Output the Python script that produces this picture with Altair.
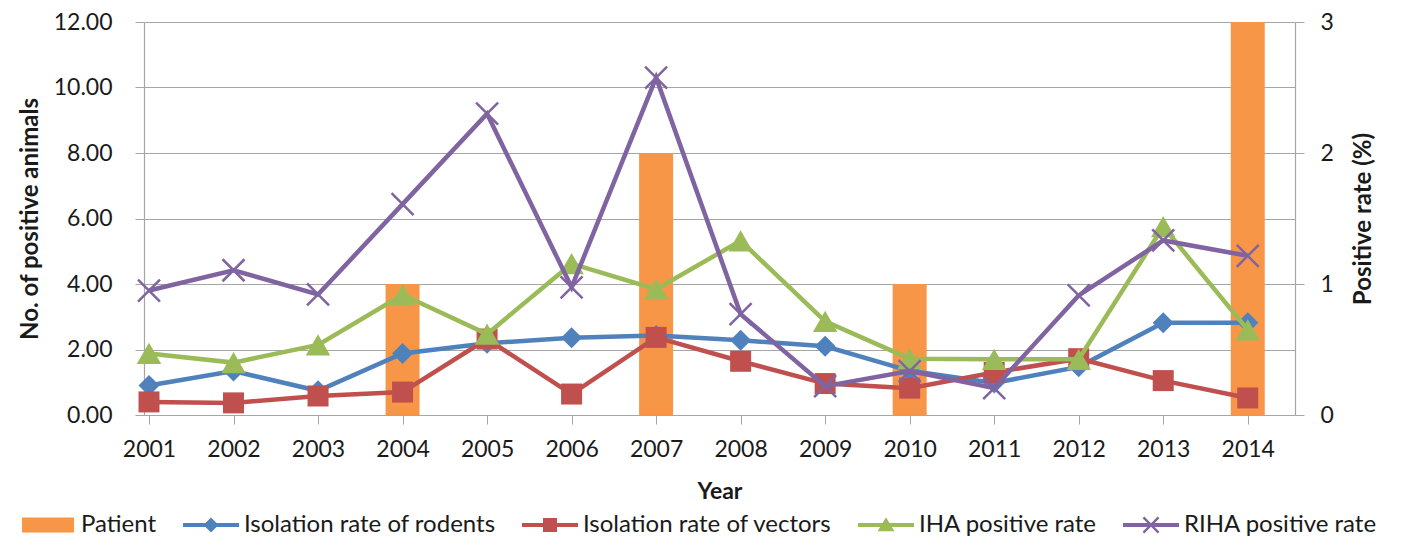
import altair as alt
import pandas as pd

# ---- data ----
years = list(range(2001, 2015))
rodents = [0.90, 1.34, 0.74, 1.88, 2.19, 2.36, 2.43, 2.28, 2.10, 1.35, 0.98, 1.47, 2.82, 2.82]
vectors = [0.40, 0.37, 0.58, 0.70, 2.32, 0.64, 2.37, 1.64, 0.96, 0.82, 1.30, 1.72, 1.05, 0.52]
iha = [1.88, 1.60, 2.14, 3.67, 2.47, 4.62, 3.84, 5.32, 2.86, 1.72, 1.70, 1.70, 5.75, 2.60]
riha = [3.80, 4.42, 3.68, 6.44, 9.20, 3.90, 10.30, 3.08, 0.88, 1.34, 0.82, 3.65, 5.33, 4.86]
patient_years = [2004, 2007, 2010, 2014]
patients = [1, 2, 1, 3]

series_names = ["Isolation rate of rodents", "Isolation rate of vectors",
                "IHA positive rate", "RIHA positive rate"]
series_values = [rodents, vectors, iha, riha]
series_colors = ["#4F81BD", "#C0504D", "#9BBB59", "#8064A2"]
patient_color = "#F79646"
left_ticks = [0, 2, 4, 6, 8, 10, 12]
right_ticks = [0, 0.5, 1, 1.5, 2, 2.5, 3]

# ---- styles ----
FONT = "Lato"
GRID = "#A6A6A6"
TEXT = "#1a1a1a"
W, H = 1151, 393

long_df = pd.DataFrame(
    [{"year": y, "series": s, "value": v}
     for s, vals in zip(series_names, series_values)
     for y, v in zip(years, vals)]
)
bar_df = pd.DataFrame({"year": patient_years, "patients": patients})

x_enc = alt.X(
    "year:Q",
    scale=alt.Scale(domain=[2001, 2014.5], nice=False, zero=False),
    axis=alt.Axis(values=years, format="d", title="Year", grid=False,
                  tickSize=9, tickColor=GRID, domainColor=GRID, domainWidth=1.2,
                  labelFont=FONT, labelFontSize=23, labelColor=TEXT, labelPadding=14,
                  labelOverlap=False,
                  titleFont=FONT, titleFontSize=23, titleFontWeight="bold", titleColor=TEXT,
                  titleX=W / 2, titleY=76, titleBaseline="middle", titleAlign="center"),
)

y_left = alt.Y(
    "value:Q",
    scale=alt.Scale(domain=[0, 12], nice=False),
    axis=alt.Axis(values=left_ticks, format=".2f", title="No. of positive  animals",
                  grid=True, gridColor=GRID, gridWidth=1.2,
                  tickSize=9, tickColor=GRID, domainColor=GRID, domainWidth=1.2,
                  labelFont=FONT, labelFontSize=23, labelColor=TEXT, labelPadding=23,
                  titleFont=FONT, titleFontSize=24, titleFontWeight="bold", titleColor=TEXT,
                  titleAngle=270, titleX=-114, titleY=H / 2,
                  titleBaseline="middle", titleAlign="center"),
)

y_right = alt.Y(
    "patients:Q",
    scale=alt.Scale(domain=[0, 3], nice=False),
    axis=alt.Axis(orient="right", values=right_ticks, title="Positive rate (%)",
                  labelExpr="datum.value % 1 === 0 ? datum.label : ''",
                  format="d", labelOverlap=False, grid=False,
                  tickSize=9, tickColor=GRID, domainColor=GRID, domainWidth=1.2,
                  labelFont=FONT, labelFontSize=23, labelColor=TEXT, labelPadding=16,
                  titleFont=FONT, titleFontSize=24, titleFontWeight="bold", titleColor=TEXT,
                  titleAngle=270, titleX=68, titleY=H / 2,
                  titleBaseline="middle", titleAlign="center"),
)

bars = alt.Chart(bar_df).mark_bar(color=patient_color, width=34).encode(
    x=x_enc, y=y_right
)

marker_specs = [
    dict(shape="diamond", size=441, filled=True, strokeWidth=0),
    dict(shape="square", size=441, filled=True, strokeWidth=0),
    dict(shape="triangle-up", size=600, filled=True, strokeWidth=0),
    dict(shape="M-1,-1L1,1M-1,1L1,-1", size=484, filled=False, strokeWidth=2.5),
]

inner_layers = []
for name, color, spec in zip(series_names, series_colors, marker_specs):
    base = alt.Chart(long_df).transform_filter(alt.datum.series == name)
    line = base.mark_line(color=color, strokeWidth=4.5).encode(x=x_enc, y=y_left)
    pts = base.mark_point(color=color, opacity=1, **spec).encode(x=x_enc, y=y_left)
    inner_layers += [line, pts]

# legend-only layer (no visible marks)
legend_names = ["Patient"] + series_names
legend_colors = [patient_color] + series_colors
LINE = "M-1,-0.07H1V0.07H-1Z"
legend_shapes = [
    "M-0.93,-0.27H0.93V0.27H-0.93Z",
    LINE + "M0,-0.27L0.27,0L0,0.27L-0.27,0Z",
    LINE + "M-0.25,-0.25H0.25V0.25H-0.25Z",
    LINE + "M0,-0.28L0.3,0.22H-0.3Z",
    LINE + "M-0.24,-0.3L0.3,0.24L0.24,0.3L-0.3,-0.24Z"
           "M0.3,-0.24L-0.24,0.3L-0.3,0.24L0.24,-0.3Z",
]
legend_df = pd.DataFrame({"entry": legend_names, "year": [2001] * 5, "value": [0.0] * 5})
legend_layer = alt.Chart(legend_df).transform_filter("false").mark_point(
    filled=True, opacity=1, strokeWidth=0
).encode(
    x=x_enc, y=y_left,
    color=alt.Color("entry:N", scale=alt.Scale(domain=legend_names, range=legend_colors),
                    legend=alt.Legend(title=None)),
    shape=alt.Shape("entry:N", scale=alt.Scale(domain=legend_names, range=legend_shapes),
                    legend=alt.Legend(title=None)),
)
inner_layers.append(legend_layer)

inner = alt.layer(*inner_layers)

chart = alt.layer(bars, inner).resolve_scale(y="independent").properties(
    width=W, height=H,
    autosize=alt.AutoSizeParams(type="none"),
    padding={"left": 136, "top": 14, "right": 113, "bottom": 123},
).configure_view(stroke=None).configure_legend(
    orient="none", legendX=-124, legendY=475, direction="horizontal", columns=5,
    symbolSize=3136, symbolStrokeWidth=0, labelFont=FONT, labelFontSize=24,
    labelColor=TEXT, labelOffset=5, labelLimit=0, columnPadding=26, padding=0,
)

chart.save("out.html", embed_options={"renderer": "svg", "actions": False})
